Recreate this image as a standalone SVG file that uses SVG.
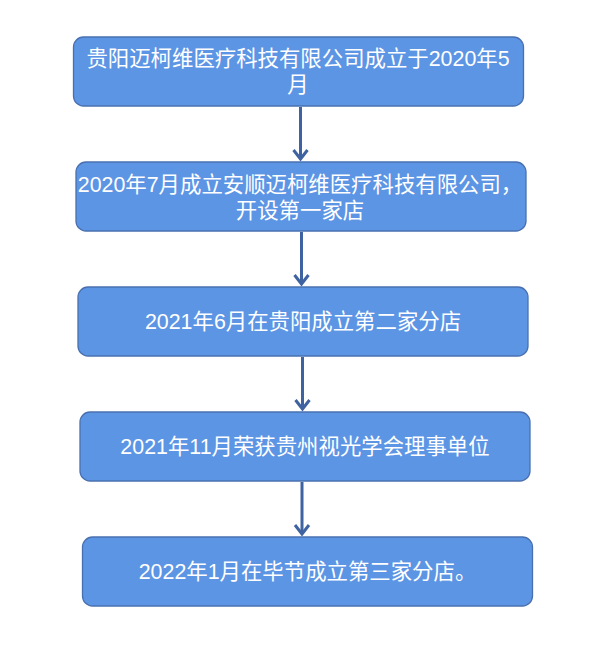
<svg xmlns="http://www.w3.org/2000/svg" width="611" height="656" viewBox="0 0 611 656">
<style>
.box{fill:#5D95E5;stroke:#4870B0;stroke-width:1.3}
.t{font-family:"Liberation Sans","Noto Sans CJK SC",sans-serif;font-size:21.4px;fill:#ffffff;text-anchor:middle}
.c{stroke:#3F63A1;stroke-width:3;fill:none}
</style>
<defs>
<marker id="ah" markerUnits="userSpaceOnUse" viewBox="-10 -10 20 20" markerWidth="20" markerHeight="20" refX="0" refY="0" orient="auto">
<path d="M-9,-7 L0,0 L-9,7" fill="none" stroke="#3F63A1" stroke-width="3" stroke-linejoin="miter"/>
</marker>
</defs>
<rect width="611" height="656" fill="#ffffff"/>
<g id="connectors">
<line class="c" x1="300.5" y1="107" x2="300.5" y2="159" marker-end="url(#ah)"/>
<line class="c" x1="301.5" y1="232" x2="301.5" y2="284" marker-end="url(#ah)"/>
<line class="c" x1="302.5" y1="357" x2="302.5" y2="409" marker-end="url(#ah)"/>
<line class="c" x1="302" y1="482" x2="302" y2="534" marker-end="url(#ah)"/>
</g>
<g id="n1">
<rect class="box" x="73.5" y="37" width="450" height="69" rx="10"/>
<text class="t" x="298" y="66">贵阳迈柯维医疗科技有限公司成立于2020年5</text>
<text class="t" x="298" y="92">月</text>
</g>
<g id="n2">
<rect class="box" x="76" y="162" width="450" height="69" rx="10"/>
<text class="t" x="300" y="192">2020年7月成立安顺迈柯维医疗科技有限公司，</text>
<text class="t" x="300" y="218">开设第一家店</text>
</g>
<g id="n3">
<rect class="box" x="78" y="287" width="450" height="69" rx="10"/>
<text class="t" x="303" y="329">2021年6月在贵阳成立第二家分店</text>
</g>
<g id="n4">
<rect class="box" x="80" y="412" width="450" height="69" rx="10"/>
<text class="t" x="305" y="454">2021年11月荣获贵州视光学会理事单位</text>
</g>
<g id="n5">
<rect class="box" x="82.5" y="537" width="450" height="69" rx="10"/>
<text class="t" x="307.5" y="579">2022年1月在毕节成立第三家分店。</text>
</g>
</svg>
